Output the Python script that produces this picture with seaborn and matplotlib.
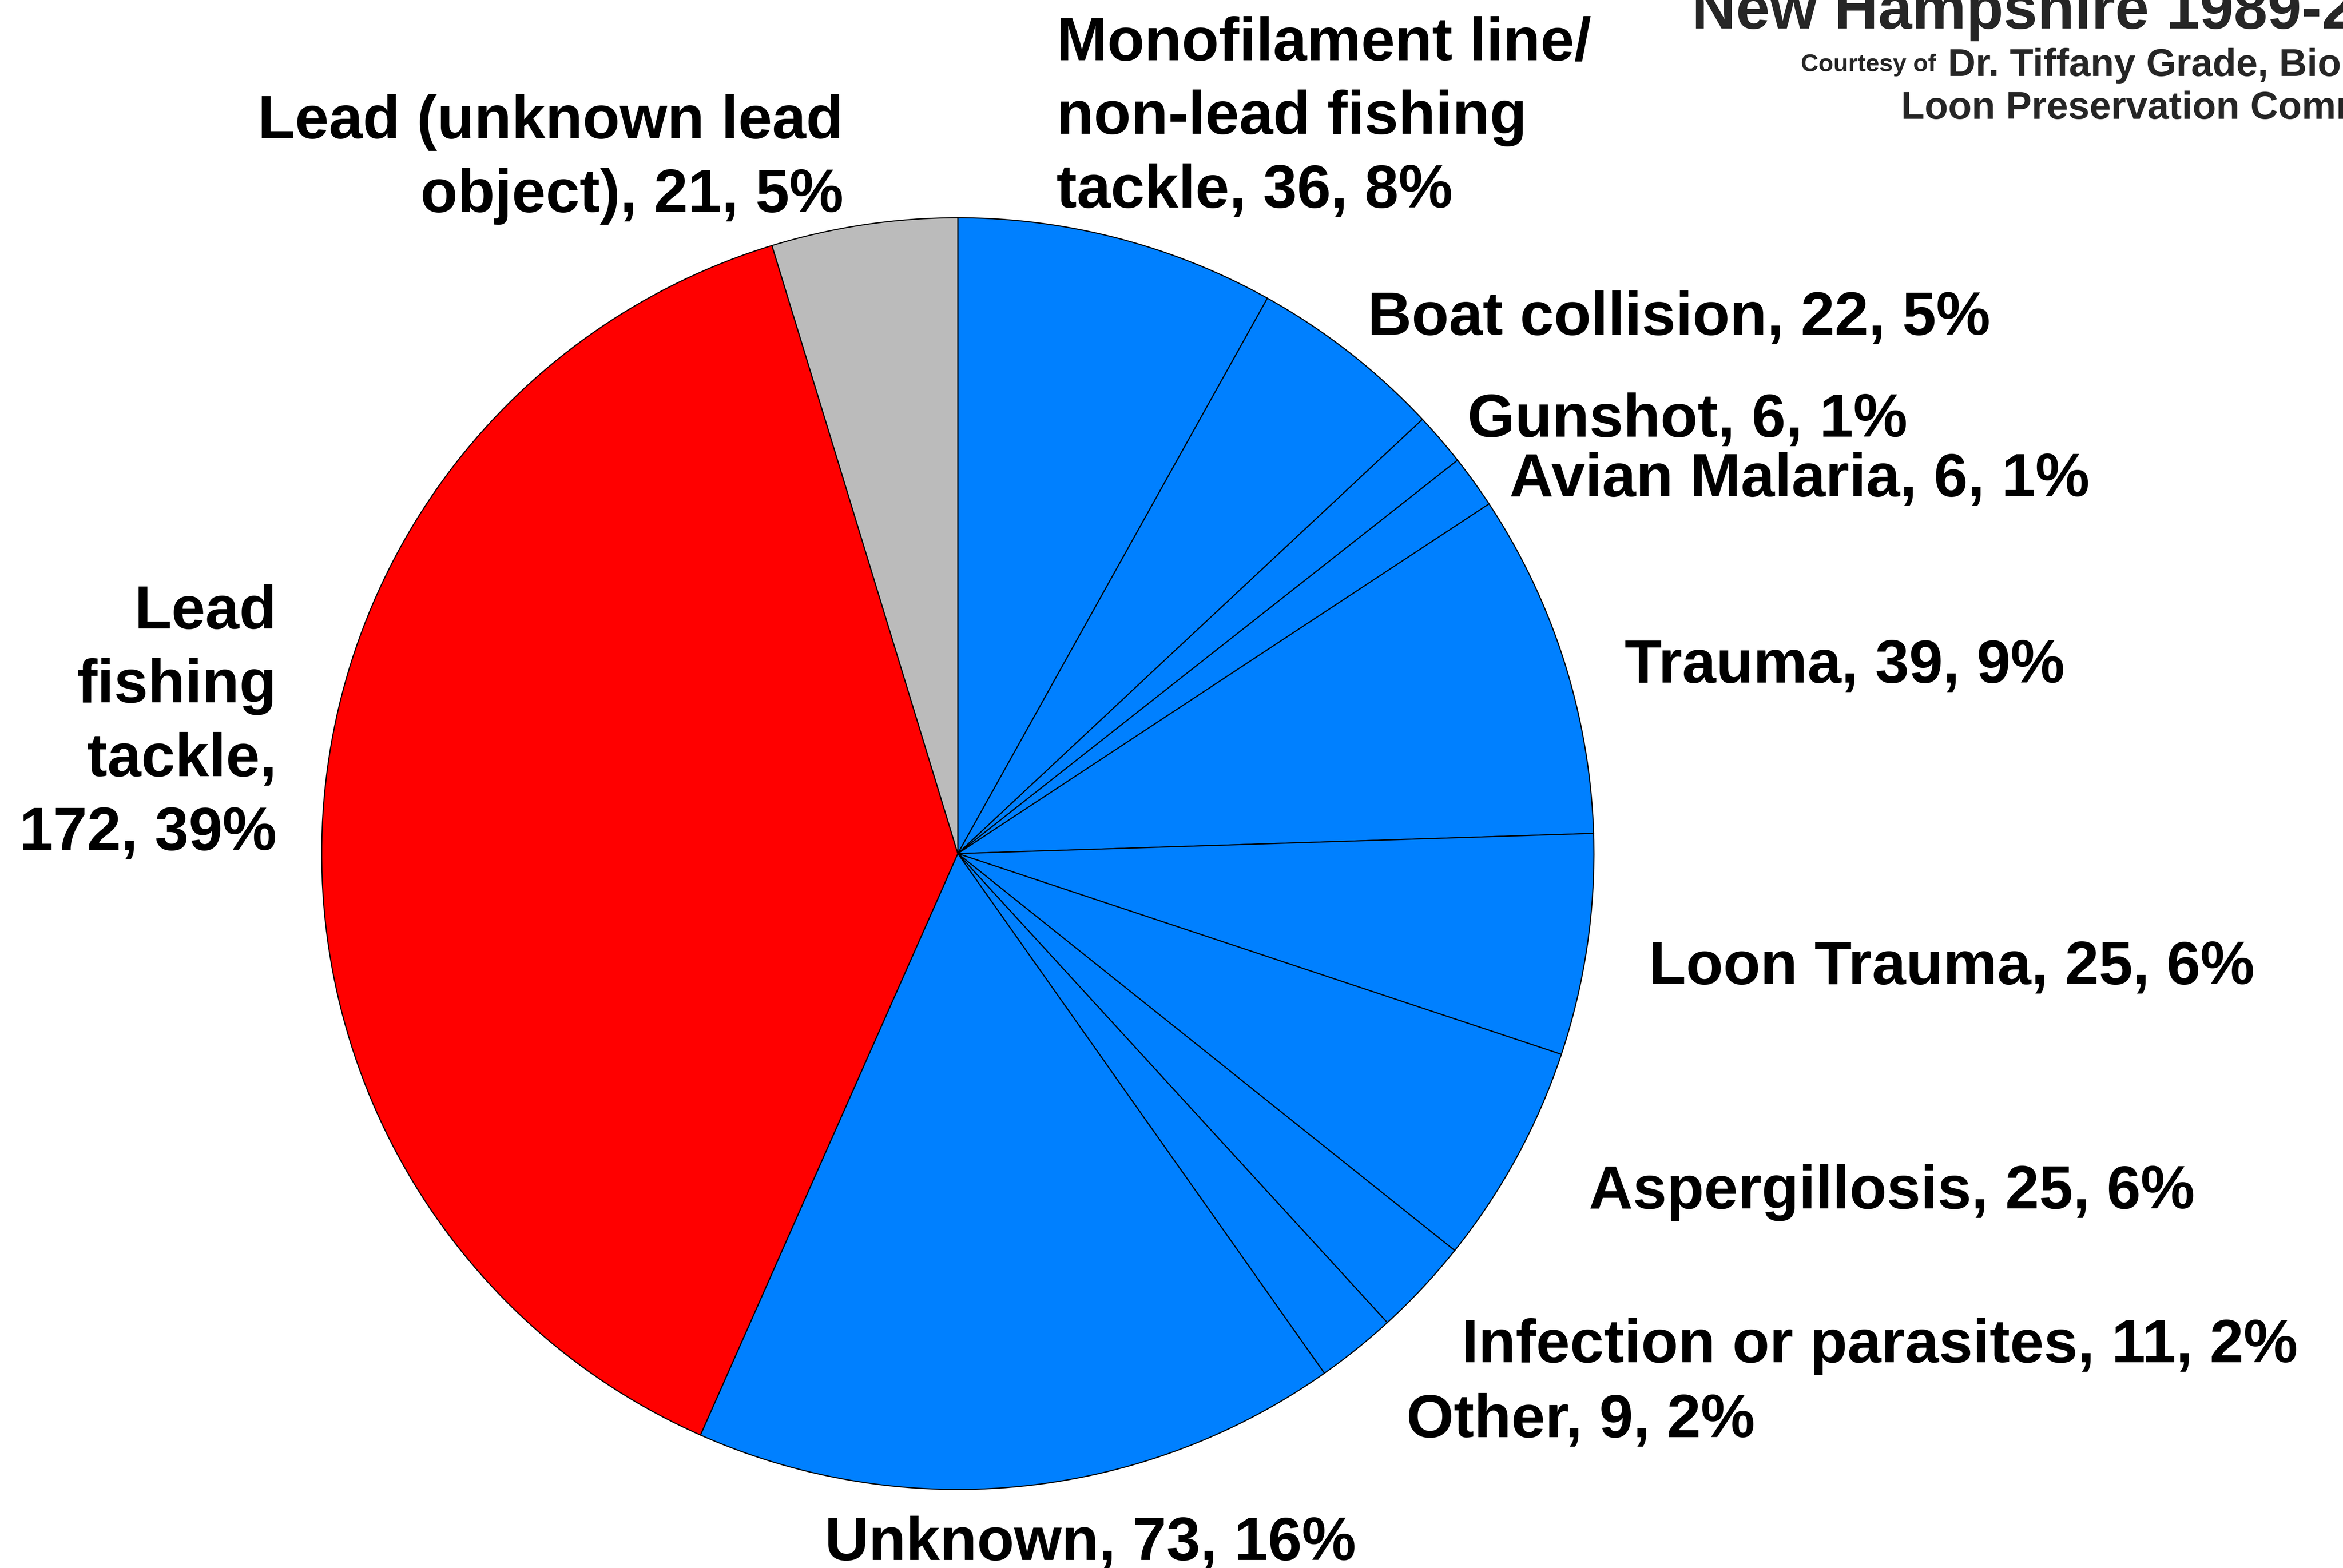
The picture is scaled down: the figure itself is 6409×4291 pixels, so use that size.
import matplotlib
matplotlib.use("Agg")
import matplotlib.pyplot as plt
import seaborn as sns

# данные: причины гибели гагар, Нью-Гэмпшир
causes = ["Monofilament line/\nnon-lead fishing\ntackle", "Boat collision", "Gunshot",
          "Avian Malaria", "Trauma", "Loon Trauma", "Aspergillosis",
          "Infection or parasites", "Other", "Unknown", "Lead\nfishing\ntackle",
          "Lead (unknown lead\nobject)"]
counts = [36, 22, 6, 6, 39, 25, 25, 11, 9, 73, 172, 21]
groups = ["other", "other", "other", "other", "other", "other", "other",
          "other", "other", "other", "lead_tackle", "lead_unknown"]

title_line = "New Hampshire 1989-2012"
credit_small = "Courtesy of"
credit_name = "Dr. Tiffany Grade, Biologist"
credit_org = "Loon Preservation Committee"

# стиль
sns.set_theme(style="white")
plt.rcParams["font.family"] = ["Liberation Sans", "DejaVu Sans"]
plt.rcParams["font.weight"] = "bold"

palette = {"other": "#0080FF", "lead_tackle": "#FF0000", "lead_unknown": "#BBBBBB"}
colors = [palette[g] for g in groups]

W, H, DPI = 6410, 4291, 100
fig = plt.figure(figsize=(W / DPI, H / DPI), dpi=DPI)
fig.patch.set_facecolor("white")
ax = fig.add_axes([0, 0, 1, 1])

ax.pie(counts, colors=colors, startangle=90, counterclock=False, radius=1,
       wedgeprops=dict(edgecolor="black", linewidth=2.2))

# центр круга и радиус в пикселях -> пределы осей
cx, cy, R = 2620, 2336, 1740
ax.set_xlim(-cx / R, (W - cx) / R)
ax.set_ylim(-(H - cy) / R, cy / R)
ax.set_aspect("auto")
ax.axis("off")

total = sum(counts)
label_pos = [  # (x, y, ha) в радиусах, y - базовая линия последней строки
    (0.155, 1.016, "left"), (0.644, 0.816, "left"), (0.801, 0.656, "left"),
    (0.867, 0.562, "left"), (1.048, 0.269, "left"), (1.086, -0.205, "left"),
    (0.992, -0.558, "left"), (0.792, -0.800, "left"), (0.705, -0.918, "left"),
    (-0.209, -1.111, "left"), (-1.071, 0.006, "right"), (-0.180, 1.009, "right"),
]
for name, n, (x, y, ha) in zip(causes, counts, label_pos):
    pct = round(100 * n / total)
    sep = ",\n" if name.startswith("Lead\n") else ", "
    ax.text(x, y, f"{name}{sep}{n}, {pct}%", ha=ha, va="baseline", ma=ha,
            fontsize=120, fontweight="bold", color="black", linespacing=1.38)

# заголовок справа вверху (обрезан краем рисунка, как в оригинале)
fig.text(4628 / W, 1 - 78 / H, title_line, ha="left", va="baseline",
         fontsize=120, fontweight="bold")
fig.text(4926 / W, 1 - 195 / H, credit_small, ha="left", va="baseline",
         fontsize=48, fontweight="bold")
fig.text(5328 / W, 1 - 208 / H, credit_name, ha="left", va="baseline",
         fontsize=76, fontweight="bold")
fig.text(5200 / W, 1 - 325 / H, credit_org, ha="left", va="baseline",
         fontsize=76, fontweight="bold")

plt.savefig("out.png", dpi=DPI, facecolor="white")
plt.close()
